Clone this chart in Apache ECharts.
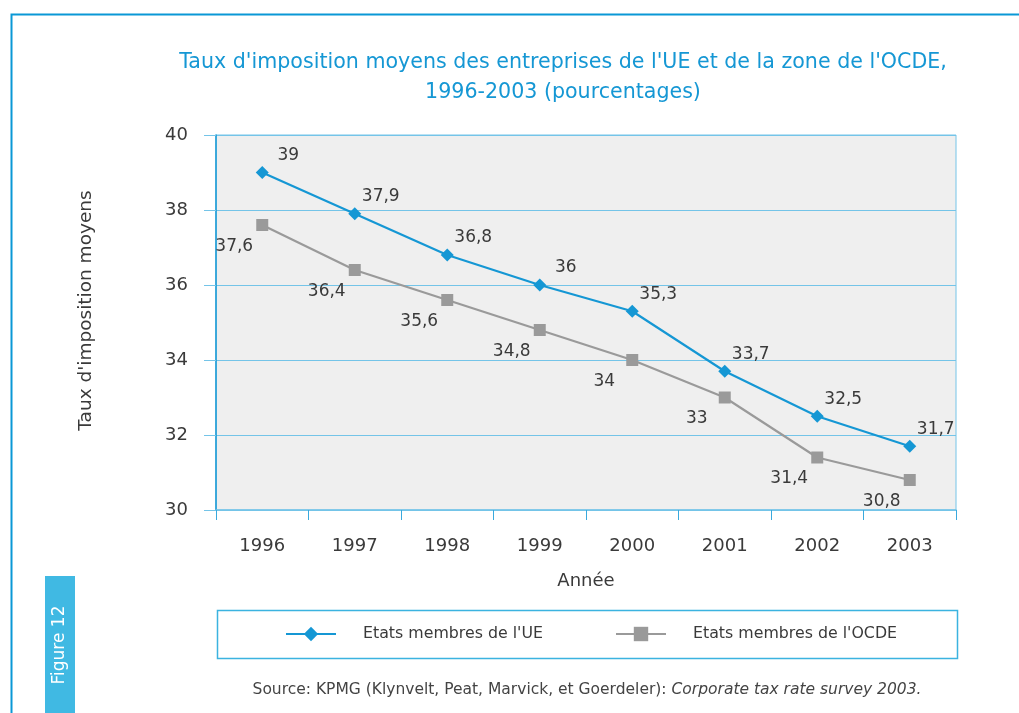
<!DOCTYPE html>
<html>
<head>
<meta charset="utf-8">
<script src="https://cdn.jsdelivr.net/npm/echarts@6/dist/echarts.min.js"></script>
<style>
  html, body { margin: 0; padding: 0; background: #fff; }
  #chart { width: 1019px; height: 713px; }
</style>
</head>
<body>
<div id="chart"></div>
<script>
// Taux d'imposition moyens, UE vs OCDE, 1996-2003
const years = ['1996', '1997', '1998', '1999', '2000', '2001', '2002', '2003'];
const tauxUE = [39, 37.9, 36.8, 36, 35.3, 33.7, 32.5, 31.7];
const tauxOCDE = [37.6, 36.4, 35.6, 34.8, 34, 33, 31.4, 30.8];
const yTicks = [30, 32, 34, 36, 38, 40];

const FONT = '"DejaVu Sans", "Open Sans", sans-serif';
const BLUE = '#1597d4';
const LIGHT_BLUE = '#74c4e8';
const GREY = '#9a9a9a';
const TXT = '#3a3a3a';

const fmt = v => String(v).replace('.', ',');

const chart = echarts.init(document.getElementById('chart'));
chart.setOption({
    backgroundColor: '#fff',
    textStyle: { fontFamily: FONT },
    animation: false,
    title: {
        text: "Taux d'imposition moyens des entreprises de l'UE et de la zone de l'OCDE,\n1996-2003 (pourcentages)",
        left: 558, top: 43, textAlign: 'center',
        textStyle: { color: BLUE, fontSize: 20.6, fontWeight: 'normal', lineHeight: 30, fontFamily: FONT }
    },
    grid: {
        left: 216, right: 63, top: 135, bottom: 203,
        show: true, backgroundColor: '#efefef', borderColor: LIGHT_BLUE, borderWidth: 1
    },
    legend: [
        {
            data: ["Etats membres de l'UE"], left: 280, top: 621,
            itemWidth: 50, itemHeight: 18,
            textStyle: { color: TXT, fontSize: 15.8, padding: [0, 0, 0, 22], fontFamily: FONT }
        },
        {
            data: ["Etats membres de l'OCDE"], left: 610, top: 621,
            itemWidth: 50, itemHeight: 18,
            textStyle: { color: TXT, fontSize: 15.8, padding: [0, 0, 0, 22], fontFamily: FONT }
        }
    ],
    xAxis: {
        type: 'category', data: years, boundaryGap: true,
        name: 'Année', nameLocation: 'middle', nameGap: 62,
        nameTextStyle: { color: TXT, fontSize: 18, fontFamily: FONT },
        axisLine: { lineStyle: { color: LIGHT_BLUE, width: 1.5 } },
        axisTick: { show: true, length: 10, lineStyle: { color: '#3aa9dd' } },
        axisLabel: { color: TXT, fontSize: 18, margin: 27, fontFamily: FONT },
        splitLine: { show: false }
    },
    yAxis: {
        type: 'value', min: 30, max: 40, interval: 2,
        name: "Taux d'imposition moyens", nameLocation: 'middle', nameGap: 120,
        nameTextStyle: { color: TXT, fontSize: 18.5, fontFamily: FONT, padding: [0, 0, 0, 24] },
        axisLine: { show: true, lineStyle: { color: BLUE, width: 1.5 } },
        axisTick: { show: true, length: 12, lineStyle: { color: LIGHT_BLUE } },
        axisLabel: {
            color: TXT, fontSize: 18, margin: 28, fontFamily: FONT,
            formatter: v => yTicks.includes(v) ? String(v) : ''
        },
        splitLine: { show: true, lineStyle: { color: LIGHT_BLUE, width: 1 } }
    },
    series: [
        {
            name: "Etats membres de l'UE", type: 'line', data: tauxUE,
            symbol: 'diamond', symbolSize: 13,
            lineStyle: { color: BLUE, width: 2.2 },
            itemStyle: { color: BLUE },
            label: {
                show: true, position: 'top', distance: 4, offset: [26, 2],
                color: TXT, fontSize: 17, fontFamily: FONT,
                formatter: p => fmt(p.value)
            },
            z: 3
        },
        {
            name: "Etats membres de l'OCDE", type: 'line', data: tauxOCDE,
            symbol: 'rect', symbolSize: 12,
            lineStyle: { color: GREY, width: 2.2 },
            itemStyle: { color: GREY },
            label: {
                show: true, position: 'bottom', distance: 6, offset: [-28, 1],
                color: TXT, fontSize: 17, fontFamily: FONT,
                formatter: p => fmt(p.value)
            },
            z: 2
        }
    ],
    graphic: [
        // cadre extérieur
        { type: 'rect', left: 9, top: 12, shape: { width: 1030, height: 720 },
          style: { fill: 'none', stroke: '#0a98d6', lineWidth: 2 }, silent: true },
        // encadré de légende
        { type: 'rect', left: 215, top: 608, shape: { width: 740, height: 48 },
          style: { fill: 'none', stroke: '#3bb3e0', lineWidth: 1.5 }, silent: true },
        // bandeau "Figure 12"
        { type: 'rect', left: 45, top: 576, shape: { width: 30, height: 140 },
          style: { fill: '#40b9e3' }, silent: true },
        { type: 'text', x: 60, y: 645, rotation: Math.PI / 2,
          style: { text: 'Figure 12', fill: '#fff', font: '17px ' + FONT, align: 'center', verticalAlign: 'middle' },
          silent: true },
        // source
        { type: 'text', x: 587, y: 690,
          style: {
              text: '{n|Source: KPMG (Klynvelt, Peat, Marvick, et Goerdeler): }{i|Corporate tax rate survey 2003.}',
              align: 'center', verticalAlign: 'middle',
              rich: {
                  n: { fill: '#444', fontSize: 15.5, fontFamily: FONT },
                  i: { fill: '#444', fontSize: 15.5, fontStyle: 'italic', fontFamily: FONT }
              }
          }, silent: true }
    ]
});
</script>
</body>
</html>
